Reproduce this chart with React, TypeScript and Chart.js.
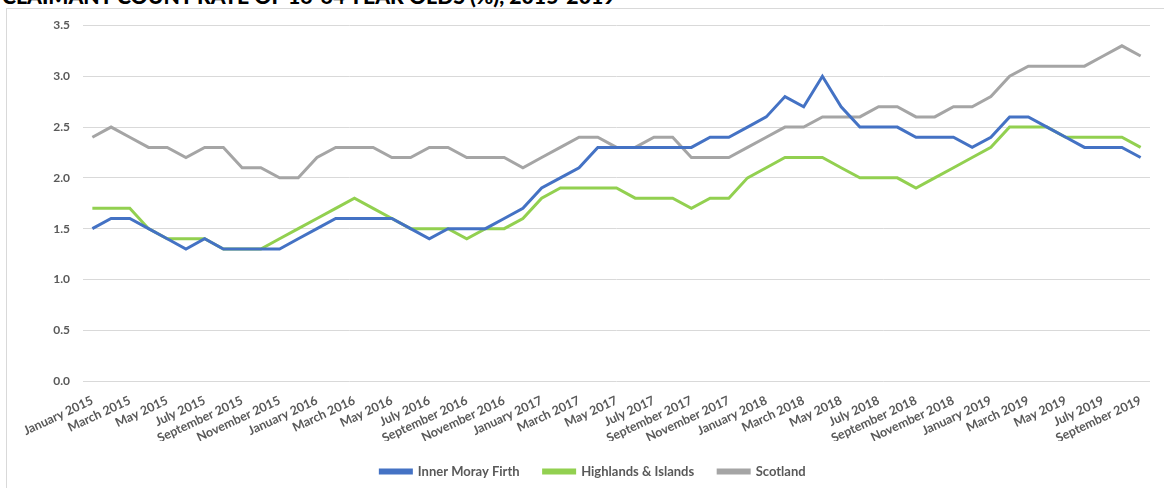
import { useEffect, useRef } from "react";
import { Chart, registerables } from "chart.js";

Chart.register(...registerables);

const categories: string[] = [
  "January 2015", "February 2015", "March 2015", "April 2015", "May 2015", "June 2015",
  "July 2015", "August 2015", "September 2015", "October 2015", "November 2015", "December 2015",
  "January 2016", "February 2016", "March 2016", "April 2016", "May 2016", "June 2016",
  "July 2016", "August 2016", "September 2016", "October 2016", "November 2016", "December 2016",
  "January 2017", "February 2017", "March 2017", "April 2017", "May 2017", "June 2017",
  "July 2017", "August 2017", "September 2017", "October 2017", "November 2017", "December 2017",
  "January 2018", "February 2018", "March 2018", "April 2018", "May 2018", "June 2018",
  "July 2018", "August 2018", "September 2018", "October 2018", "November 2018", "December 2018",
  "January 2019", "February 2019", "March 2019", "April 2019", "May 2019", "June 2019",
  "July 2019", "August 2019", "September 2019",
];

const innerMorayFirth: number[] = [
  1.5, 1.6, 1.6, 1.5, 1.4, 1.3, 1.4, 1.3, 1.3, 1.3, 1.3, 1.4,
  1.5, 1.6, 1.6, 1.6, 1.6, 1.5, 1.4, 1.5, 1.5, 1.5, 1.6, 1.7,
  1.9, 2.0, 2.1, 2.3, 2.3, 2.3, 2.3, 2.3, 2.3, 2.4, 2.4, 2.5,
  2.6, 2.8, 2.7, 3.0, 2.7, 2.5, 2.5, 2.5, 2.4, 2.4, 2.4, 2.3,
  2.4, 2.6, 2.6, 2.5, 2.4, 2.3, 2.3, 2.3, 2.2,
];

const highlandsIslands: number[] = [
  1.7, 1.7, 1.7, 1.5, 1.4, 1.4, 1.4, 1.3, 1.3, 1.3, 1.4, 1.5,
  1.6, 1.7, 1.8, 1.7, 1.6, 1.5, 1.5, 1.5, 1.4, 1.5, 1.5, 1.6,
  1.8, 1.9, 1.9, 1.9, 1.9, 1.8, 1.8, 1.8, 1.7, 1.8, 1.8, 2.0,
  2.1, 2.2, 2.2, 2.2, 2.1, 2.0, 2.0, 2.0, 1.9, 2.0, 2.1, 2.2,
  2.3, 2.5, 2.5, 2.5, 2.4, 2.4, 2.4, 2.4, 2.3,
];

const scotland: number[] = [
  2.4, 2.5, 2.4, 2.3, 2.3, 2.2, 2.3, 2.3, 2.1, 2.1, 2.0, 2.0,
  2.2, 2.3, 2.3, 2.3, 2.2, 2.2, 2.3, 2.3, 2.2, 2.2, 2.2, 2.1,
  2.2, 2.3, 2.4, 2.4, 2.3, 2.3, 2.4, 2.4, 2.2, 2.2, 2.2, 2.3,
  2.4, 2.5, 2.5, 2.6, 2.6, 2.6, 2.7, 2.7, 2.6, 2.6, 2.7, 2.7,
  2.8, 3.0, 3.1, 3.1, 3.1, 3.1, 3.2, 3.3, 3.2,
];

const seriesNames: string[] = ["Inner Moray Firth", "Highlands & Islands", "Scotland"];
const seriesColors: string[] = ["#4472C4", "#92D050", "#A5A5A5"];

const TITLE = "CLAIMANT COUNT RATE OF 16-64 YEAR OLDS (%), 2015-2019";
const FONT = "Lato, 'Open Sans', sans-serif";

// Shift the legend horizontally so that it is centred like the reference frame.
const legendShift = {
  id: "legendShift",
  afterLayout(chart: any) {
    const lg = chart.legend;
    if (lg) {
      lg.left += 18;
      lg.right += 18;
    }
  },
};

export default function App() {
  const canvasRef = useRef<HTMLCanvasElement | null>(null);

  useEffect(() => {
    const canvas = canvasRef.current;
    if (!canvas) return;
    const values = [innerMorayFirth, highlandsIslands, scotland];
    const chart = new Chart(canvas, {
      type: "line",
      data: {
        labels: categories,
        datasets: seriesNames.map((name, i) => ({
          label: name,
          data: values[i],
          borderColor: seriesColors[i],
          backgroundColor: seriesColors[i],
          borderWidth: 3,
          pointRadius: 0,
          pointHoverRadius: 0,
          tension: 0,
          fill: false,
        })),
      },
      plugins: [legendShift],
      options: {
        animation: false,
        responsive: false,
        maintainAspectRatio: false,
        layout: { padding: { left: 0, right: 14, top: 25.5, bottom: 0 } },
        plugins: {
          tooltip: { enabled: false },
          title: { display: false },
          legend: {
            display: true,
            position: "bottom",
            labels: {
              boxWidth: 31,
              boxHeight: 3,
              padding: 24,
              color: "#595959",
              font: { family: FONT, size: 13, weight: "bold" },
            },
          },
        },
        scales: {
          x: {
            type: "category",
            offset: true,
            afterFit: (scale: any) => {
              scale.height = 60;
            },
            grid: { display: false, drawTicks: false },
            border: { display: false },
            ticks: {
              autoSkip: false,
              maxRotation: 25,
              minRotation: 25,
              padding: 12,
              color: "#595959",
              font: { family: FONT, size: 12.5, weight: "bold" },
              callback: (_v: any, index: number) => (index % 2 === 0 ? categories[index] : ""),
            },
          },
          y: {
            min: 0,
            max: 3.5,
            afterFit: (scale: any) => {
              scale.width = 83;
            },
            grid: { color: "#D9D9D9", lineWidth: 1, drawTicks: false },
            border: { display: false },
            ticks: {
              stepSize: 0.5,
              padding: 13,
              color: "#595959",
              font: { family: FONT, size: 12, weight: "bold" },
              callback: (v: any) => Number(v).toFixed(1),
            },
          },
        },
      },
    });
    return () => chart.destroy();
  }, []);

  return (
    <div
      style={{
        position: "fixed",
        left: 0,
        top: 0,
        width: 1164,
        height: 488,
        overflow: "hidden",
        background: "#ffffff",
      }}
    >
      <div
        style={{
          position: "absolute",
          left: 6,
          top: 8,
          width: 1200,
          height: 520,
          border: "1px solid #D9D9D9",
          boxSizing: "border-box",
        }}
      />
      <div
        style={{
          position: "absolute",
          left: 2,
          top: -14.5,
          fontFamily: FONT,
          fontWeight: 900,
          fontSize: 21.2,
          lineHeight: "21.2px",
          color: "#000000",
          whiteSpace: "nowrap",
        }}
      >
        {TITLE}
      </div>
      <canvas
        ref={canvasRef}
        width={1164}
        height={488}
        style={{ position: "absolute", left: 0, top: 0, width: 1164, height: 488 }}
      />
    </div>
  );
}
